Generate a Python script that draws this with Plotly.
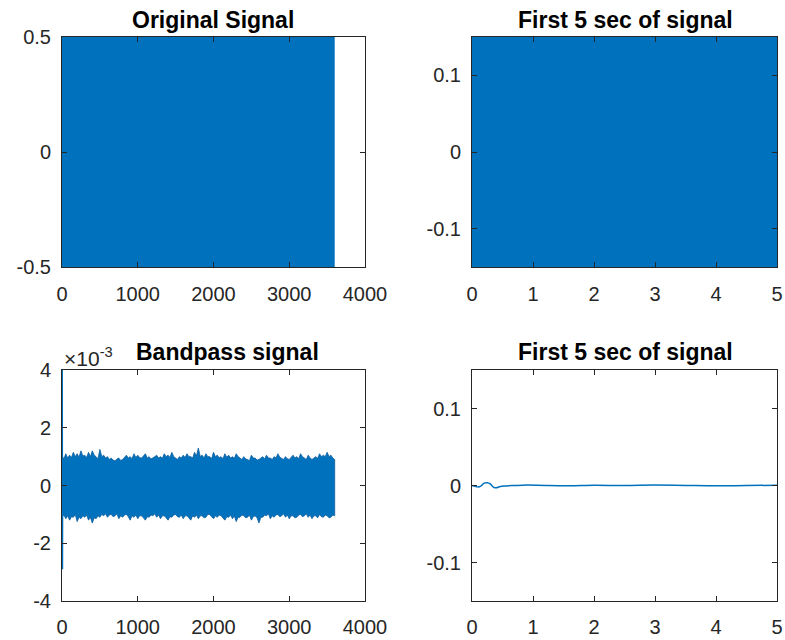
import plotly.graph_objects as go

BLUE = "#0072BD"
EDGE = "#0b5c9e"
AXC = "#262626"
FONT = "Liberation Sans, Arial, Helvetica, sans-serif"

# Raw recording (dense oscillation) drawn through its amplitude envelope
orig_t = [0, 3600]
orig_upper = [0.5, 0.5]
orig_lower = [-0.5, -0.5]

# First five seconds of the raw recording
first_t = [0, 5]
first_upper = [0.5, 0.5]
first_lower = [-0.5, -0.5]

# Bandpass output envelope, every 25 s, in units of 1e-3
bp_upper = [1.0, 0.92, 1.1, 0.95, 1.05, 0.97, 1.15, 1.0, 1.1, 0.98,
            1.2, 1.02, 1.05, 0.97, 1.15, 1.0, 1.2, 1.05, 1.0, 0.93,
            1.25, 1.0, 1.05, 0.95, 1.0, 0.9, 0.95, 0.88, 0.85, 0.92,
            0.95, 0.87, 0.9, 0.98, 1.05, 0.95, 1.0, 0.93, 1.1, 0.97,
            1.05, 0.96, 0.95, 1.02, 1.1, 0.95, 1.0, 0.92, 0.95, 1.0,
            1.05, 0.95, 1.0, 0.94, 1.1, 1.0, 1.05, 0.97, 1.15, 1.0,
            0.95, 0.9, 1.0, 0.95, 1.05, 0.97, 1.1, 1.0, 1.0, 0.95,
            1.15, 1.02, 1.3, 1.0, 1.05, 0.95, 1.1, 1.0, 1.0, 0.93,
            1.15, 1.0, 1.05, 0.96, 1.0, 0.93, 1.1, 0.98, 1.05, 0.95,
            1.0, 0.94, 1.1, 1.0, 0.95, 0.9, 1.0, 0.92, 0.9, 0.86,
            1.05, 0.95, 0.95, 0.88, 0.9, 0.95, 1.0, 0.92, 1.05, 0.95,
            0.95, 0.9, 1.0, 0.95, 1.1, 0.98, 0.95, 0.9, 1.0, 0.93,
            0.9, 0.96, 1.05, 0.95, 1.0, 0.93, 1.1, 1.0, 0.95, 0.9,
            1.05, 0.95, 0.9, 0.96, 1.0, 0.94, 1.1, 1.0, 1.05, 1.0,
            1.15, 1.0, 1.05, 0.95, 0.9]
bp_lower = [-1.1, -1.02, -1.15, -1.05, -1.2, -1.08, -1.1, -1.0, -1.25, -1.1,
            -1.15, -1.05, -1.1, -1.02, -1.2, -1.1, -1.3, -1.12, -1.15, -1.05,
            -1.1, -1.0, -1.05, -0.98, -1.1, -1.02, -1.0, -1.08, -1.05, -0.98,
            -1.15, -1.05, -1.1, -1.02, -1.0, -1.08, -1.2, -1.05, -1.1, -1.02,
            -1.15, -1.05, -1.05, -1.12, -1.2, -1.08, -1.1, -1.02, -1.05, -0.98,
            -1.1, -1.02, -1.15, -1.05, -1.05, -1.12, -1.2, -1.08, -1.1, -1.02,
            -1.0, -1.08, -1.1, -1.02, -1.15, -1.05, -1.05, -1.12, -1.2, -1.05,
            -1.1, -1.02, -1.15, -1.05, -1.05, -1.12, -1.1, -1.0, -1.0, -1.08,
            -1.15, -1.05, -1.1, -1.02, -1.05, -1.12, -1.2, -1.08, -1.1, -1.02,
            -1.15, -1.05, -1.25, -1.1, -1.1, -1.02, -1.05, -1.12, -1.1, -1.02,
            -1.2, -1.08, -1.05, -1.12, -1.3, -1.1, -1.1, -1.02, -1.05, -0.98,
            -1.15, -1.05, -1.1, -1.02, -1.0, -1.08, -1.05, -0.98, -1.1, -1.02,
            -1.15, -1.05, -1.05, -1.12, -1.1, -1.02, -1.0, -1.08, -1.05, -0.98,
            -1.1, -1.02, -1.15, -1.05, -1.05, -1.12, -1.0, -1.08, -1.1, -1.02,
            -1.05, -1.12, -1.1, -1.02, -1.05]
bp_t = [25 * i for i in range(len(bp_upper))]

# Filter start-up transient, units of 1e-3
bp_start_t = [0, 3, 6, 9, 12]
bp_start = [0.0, 4.0, -2.9, 1.0, -0.5]

# Bandpass output, first five seconds
bp5_t = [0, 0.05, 0.1, 0.15, 0.2, 0.25, 0.3, 0.35, 0.4, 0.45, 0.55, 0.7,
         0.9, 1.2, 1.6, 2.0, 2.5, 3.0, 3.5, 4.0, 4.5, 5.0]
bp5_v = [0.0, -0.001, -0.002, -0.0005, 0.003, 0.0035, 0.002, -0.002, -0.003,
         -0.0015, -0.0005, 0.0, 0.0005, 0.0, -0.0003, 0.0003, 0.0, 0.0005,
         0.0, -0.0004, 0.0, 0.0003]

x_ticks_long = [0, 1000, 2000, 3000, 4000]
x_ticks_short = [0, 1, 2, 3, 4, 5]
y_ticks_orig = [-0.5, 0, 0.5]
y_ticks_short = [-0.1, 0, 0.1]
y_ticks_bp = [-4, -2, 0, 2, 4]


def band(t, up, lo, xa, ya, line_color=BLUE, lw=0):
    return go.Scatter(
        x=list(t) + list(t)[::-1], y=list(up) + list(lo)[::-1],
        fill="toself", fillcolor=BLUE, mode="lines",
        line=dict(color=line_color, width=lw),
        xaxis=xa, yaxis=ya, hoverinfo="skip", showlegend=False)


fig = go.Figure()
fig.add_trace(band(orig_t, orig_upper, orig_lower, "x", "y"))
fig.add_trace(band(first_t, first_upper, first_lower, "x2", "y2"))
fig.add_trace(band(bp_t, bp_upper, bp_lower, "x3", "y3", EDGE, 0.8))
fig.add_trace(go.Scatter(x=bp_start_t, y=bp_start, mode="lines",
                         line=dict(color=BLUE, width=1.5),
                         xaxis="x3", yaxis="y3", showlegend=False))
fig.add_trace(go.Scatter(x=bp5_t, y=bp5_v, mode="lines",
                         line=dict(color=BLUE, width=1.5, shape="spline"),
                         xaxis="x4", yaxis="y4", showlegend=False))

W, H = 785, 640
colx = [(62, 365), (472, 777)]
rowy = [(37, 267), (370, 601)]


def dom_x(c):
    return [colx[c][0] / W, colx[c][1] / W]


def dom_y(r):
    return [1 - rowy[r][1] / H, 1 - rowy[r][0] / H]


def axis(domain, rng, ticks, anchor, standoff=6):
    # plain hyphen for negative labels
    return dict(domain=domain, range=rng, tickvals=ticks,
                ticktext=["%g" % v for v in ticks], anchor=anchor,
                showline=True, linecolor=AXC, linewidth=1, mirror="ticks",
                ticks="inside", ticklen=5, tickcolor=AXC, showgrid=False,
                zeroline=False, automargin=False,
                tickfont=dict(family=FONT, size=20, color=AXC),
                ticklabelstandoff=standoff, fixedrange=True)


fig.update_layout(
    width=W, height=H, margin=dict(l=0, r=0, t=0, b=0, pad=0),
    paper_bgcolor="white", plot_bgcolor="white", showlegend=False,
    xaxis=axis(dom_x(0), [0, 4000], x_ticks_long, "y", standoff=9),
    yaxis=axis(dom_y(0), [-0.5, 0.5], y_ticks_orig, "x"),
    xaxis2=axis(dom_x(1), [0, 5], x_ticks_short, "y2", standoff=9),
    yaxis2=axis(dom_y(0), [-0.15, 0.15], y_ticks_short, "x2"),
    xaxis3=axis(dom_x(0), [0, 4000], x_ticks_long, "y3", standoff=8),
    yaxis3=axis(dom_y(1), [-4, 4], y_ticks_bp, "x3"),
    xaxis4=axis(dom_x(1), [0, 5], x_ticks_short, "y4", standoff=8),
    yaxis4=axis(dom_y(1), [-0.15, 0.15], y_ticks_short, "x4"),
)

titles = [("Original Signal", 213, 20), ("First 5 sec of signal", 625, 20),
          ("Bandpass signal", 227, 352), ("First 5 sec of signal", 625, 352)]
for txt, px, py in titles:
    fig.add_annotation(text="<b>" + txt + "</b>", xref="paper", yref="paper",
                       x=px / W, y=1 - py / H, xanchor="center",
                       yanchor="middle", showarrow=False,
                       font=dict(family=FONT, size=23, color="black"))

fig.add_annotation(text="×10<sup>-3</sup>", xref="paper", yref="paper",
                   x=62 / W, y=1 - 357 / H, xanchor="left", yanchor="middle",
                   showarrow=False,
                   font=dict(family=FONT, size=21, color=AXC))

fig.write_html("out.html")
